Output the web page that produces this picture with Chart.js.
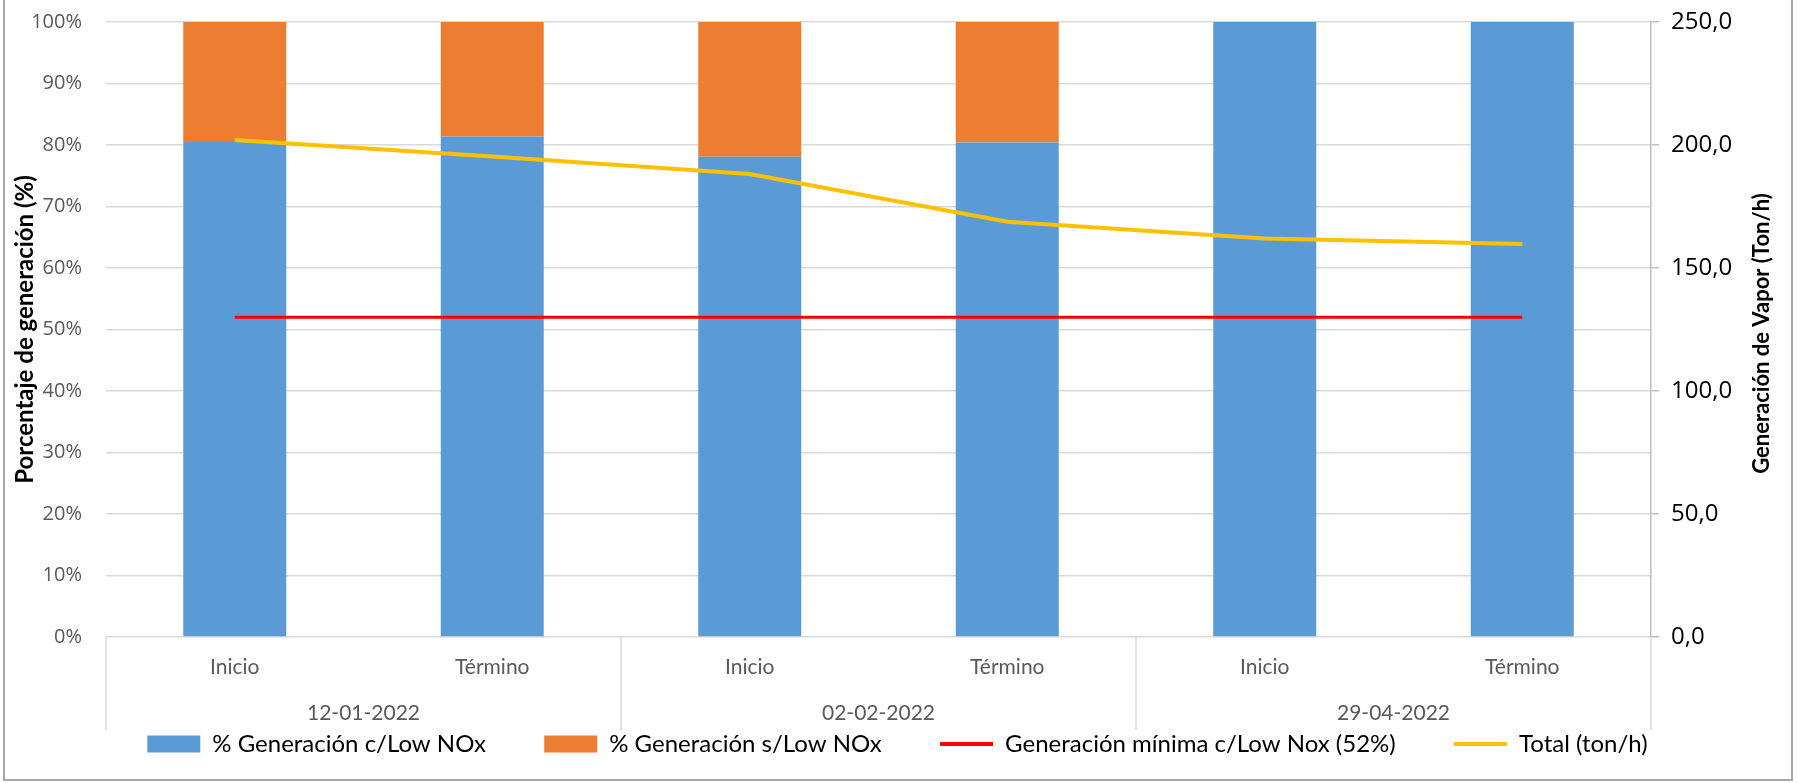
<!DOCTYPE html>
<html>
<head>
<meta charset="utf-8">
<script src="https://cdn.jsdelivr.net/npm/chart.js@4.4.0/dist/chart.umd.min.js"></script>
<style>
body{margin:0;background:#fff;}
#frame{position:absolute;left:3px;top:-2px;width:1790px;height:783px;border:2px solid #a6a6a6;box-sizing:border-box;}
canvas{position:absolute;left:0;top:0;}
</style>
</head>
<body>
<div id="frame"></div>
<canvas id="myChart" width="1797" height="783"></canvas>
<script>
const labels = ['Inicio','Término','Inicio','Término','Inicio','Término'];
const dates = ['12-01-2022','02-02-2022','29-04-2022'];
const conLowNox = [80.5, 81.4, 78.1, 80.4, 100, 100];
const sinLowNox = [19.5, 18.6, 21.9, 19.6, 0, 0];
const minimo = [52, 52, 52, 52, 52, 52];
const total = [202.0, 195.3, 188.2, 168.8, 162.0, 159.8];
const yTicks = [0, 10, 20, 30, 40, 50, 60, 70, 80, 90, 100];

const gray = '#595959';

// lineas verticales entre fechas + titulo del eje derecho
const extras = {
    id: 'extras',
    afterDraw(chart) {
        const {ctx, chartArea, scales: {x, x2}} = chart;
        const half = (x.getPixelForValue(1) - x.getPixelForValue(0)) / 2;
        ctx.save();
        ctx.strokeStyle = '#d9d9d9';
        ctx.lineWidth = 1.5;
        for (let i = 0; i <= dates.length; i++) {
            const px = i < dates.length ? x.getPixelForValue(i * 2) - half : x.getPixelForValue(labels.length - 1) + half;
            ctx.beginPath();
            ctx.moveTo(px, chartArea.bottom);
            ctx.lineTo(px, x2.bottom + 1);
            ctx.stroke();
        }
        ctx.translate(1762, (chartArea.top + chartArea.bottom) / 2 + 4);
        ctx.rotate(-Math.PI / 2);
        ctx.font = "bold 22px Lato";
        ctx.fillStyle = '#000';
        ctx.textAlign = 'center';
        ctx.textBaseline = 'middle';
        ctx.fillText('Generación de Vapor (Ton/h)', 0, 0);
        ctx.restore();
    }
};

var ctx = document.getElementById('myChart').getContext('2d');
var myChart = new Chart(ctx, {
    data: {
        labels: labels,
        datasets: [{
            type: 'bar',
            label: '% Generación c/Low NOx',
            data: conLowNox,
            backgroundColor: '#5B9BD5',
            stack: 'gen',
            yAxisID: 'y',
            order: 1,
            barPercentage: 0.4,
            categoryPercentage: 1
        }, {
            type: 'bar',
            label: '% Generación s/Low NOx',
            data: sinLowNox,
            backgroundColor: '#ED7D31',
            stack: 'gen',
            yAxisID: 'y',
            order: 1,
            barPercentage: 0.4,
            categoryPercentage: 1
        }, {
            type: 'line',
            label: 'Generación mínima c/Low Nox (52%)',
            data: minimo,
            borderColor: '#FF0000',
            backgroundColor: '#FF0000',
            borderWidth: 3,
            pointRadius: 0,
            stack: 'min',
            yAxisID: 'y',
            order: 0
        }, {
            type: 'line',
            label: 'Total (ton/h)',
            data: total,
            borderColor: '#FFC000',
            backgroundColor: '#FFC000',
            borderWidth: 4,
            pointRadius: 0,
            yAxisID: 'y1',
            order: 0
        }]
    },
    options: {
        responsive: false,
        animation: false,
        layout: {padding: {left: 4, right: 6, top: 22, bottom: 17}},
        plugins: {
            tooltip: {enabled: false},
            legend: {
                position: 'bottom',
                sort: (a, b) => a.datasetIndex - b.datasetIndex,
                labels: {
                    usePointStyle: true,
                    pointStyleWidth: 53,
                    boxHeight: 17,
                    padding: 3,
                    color: '#000',
                    font: {family: 'Lato', size: 24},
                    generateLabels(chart) {
                        const items = Chart.defaults.plugins.legend.labels.generateLabels(chart);
                        items.sort((a, b) => a.datasetIndex - b.datasetIndex);
                        items.forEach((it, i) => {
                            const ds = chart.data.datasets[it.datasetIndex];
                            if (ds.type === 'line') {
                                it.pointStyle = 'line';
                                it.lineWidth = 4;
                                it.strokeStyle = ds.borderColor;
                            } else {
                                it.pointStyle = 'rect';
                                it.lineWidth = 0;
                                it.fillStyle = ds.backgroundColor;
                            }
                            if (i < items.length - 1) it.text = it.text + '         ';
                        });
                        return items;
                    }
                }
            }
        },
        scales: {
            x: {
                position: 'bottom',
                grid: {display: false},
                border: {display: false},
                ticks: {color: gray, font: {family: 'Lato', size: 21}, padding: 10},
                afterFit(s) { s.height = 48; }
            },
            x2: {
                type: 'category',
                labels: dates,
                position: 'bottom',
                offset: true,
                grid: {display: false},
                border: {display: false},
                ticks: {color: gray, font: {family: 'Lato', size: 21}, padding: 8},
                afterFit(s) { s.height = 44; }
            },
            y: {
                position: 'left',
                stacked: true,
                min: 0,
                max: 100,
                afterBuildTicks(s) { s.ticks = yTicks.map(v => ({value: v})); },
                grid: {color: '#d9d9d9', lineWidth: 1.5, drawTicks: false},
                border: {display: false},
                ticks: {color: gray, font: {family: 'Open Sans', size: 20}, padding: 24, callback: v => v + '%'},
                title: {display: true, text: 'Porcentaje de generación (%)', color: '#000',
                        font: {family: 'Lato', size: 24, weight: 'bold'}, padding: {top: 7, bottom: 0}},
                afterFit(s) { s.width = 102; s.paddingTop = 0; s.paddingBottom = 0; }
            },
            y1: {
                position: 'right',
                min: 0,
                max: 250,
                ticks: {stepSize: 50, color: '#000', font: {family: 'Open Sans', size: 24}, padding: 12,
                        callback: v => v.toFixed(1).replace('.', ',')},
                grid: {drawOnChartArea: false, color: '#bfbfbf', lineWidth: 1.5, tickLength: 8},
                border: {color: '#bfbfbf', width: 1.5},
                afterFit(s) { s.width = 140; s.paddingTop = 0; s.paddingBottom = 0; }
            }
        }
    },
    plugins: [extras]
});
</script>
</body>
</html>
